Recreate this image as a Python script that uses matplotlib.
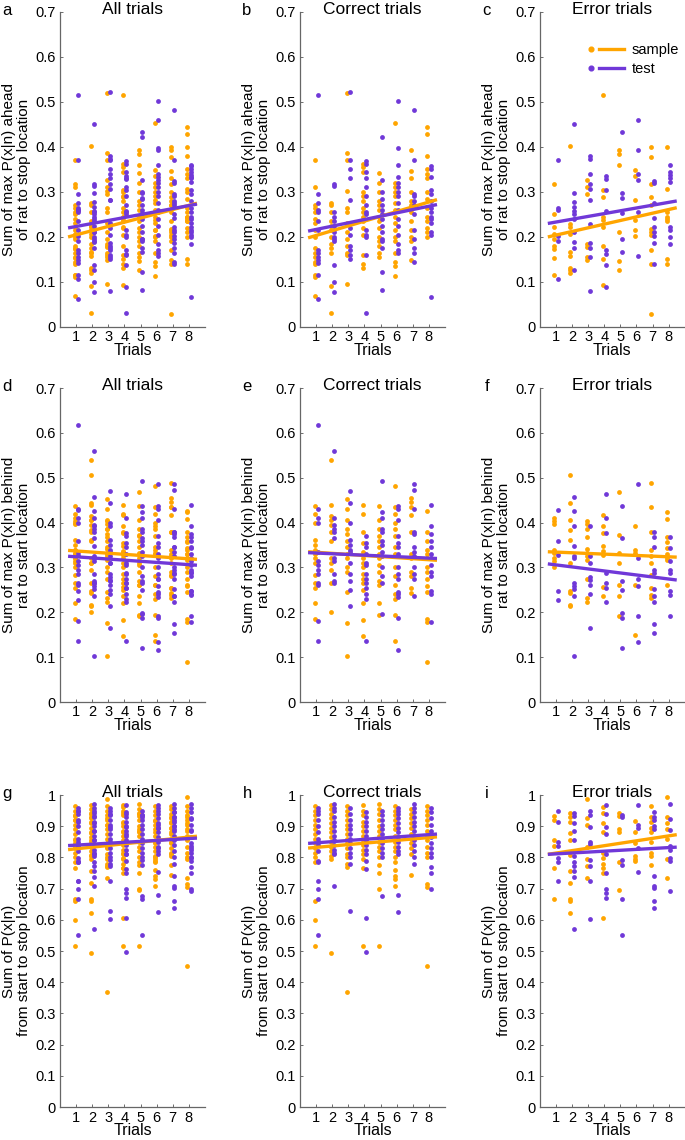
import numpy as np
import matplotlib
matplotlib.use("Agg")
from matplotlib import pyplot as plt
from matplotlib.lines import Line2D
from matplotlib.legend_handler import HandlerBase

plt.rcParams['font.family'] = ['Liberation Sans', 'DejaVu Sans']

# Values, one list per trial (1..8)
# Row 1: sum of max P(x|n) ahead of rat to stop location
ahead_correct_sample = [
    [0.371, 0.31, 0.27, 0.265, 0.255, 0.24, 0.23, 0.215, 0.2, 0.175, 0.165, 0.155, 0.145, 0.14, 0.115, 0.11, 0.068],
    [0.275, 0.27, 0.255, 0.235, 0.225, 0.215, 0.2, 0.185, 0.175, 0.165, 0.09, 0.032],
    [0.52, 0.386, 0.37, 0.302, 0.265, 0.255, 0.23, 0.21, 0.195, 0.18, 0.165, 0.16, 0.095],
    [0.362, 0.355, 0.345, 0.3, 0.29, 0.28, 0.265, 0.255, 0.245, 0.235, 0.22, 0.205, 0.16, 0.14, 0.132],
    [0.342, 0.32, 0.3, 0.28, 0.27, 0.26, 0.245, 0.235, 0.22, 0.2, 0.19, 0.18, 0.165, 0.155],
    [0.454, 0.32, 0.31, 0.3, 0.29, 0.275, 0.26, 0.245, 0.23, 0.215, 0.2, 0.19, 0.165, 0.145, 0.135, 0.113],
    [0.394, 0.346, 0.33, 0.3, 0.28, 0.27, 0.255, 0.235, 0.215, 0.2, 0.19, 0.148],
    [0.444, 0.428, 0.38, 0.35, 0.34, 0.33, 0.3, 0.285, 0.265, 0.245, 0.235, 0.22, 0.21, 0.2],
]
ahead_correct_test = [
    [0.515, 0.295, 0.275, 0.26, 0.255, 0.235, 0.215, 0.17, 0.165, 0.155, 0.148, 0.142, 0.115, 0.062],
    [0.318, 0.314, 0.255, 0.245, 0.235, 0.225, 0.21, 0.2, 0.195, 0.19, 0.137, 0.1, 0.078],
    [0.523, 0.37, 0.35, 0.332, 0.283, 0.23, 0.22, 0.205, 0.18, 0.17, 0.16, 0.15],
    [0.368, 0.362, 0.345, 0.33, 0.31, 0.29, 0.27, 0.255, 0.25, 0.215, 0.205, 0.2, 0.16, 0.03],
    [0.422, 0.327, 0.3, 0.285, 0.27, 0.26, 0.25, 0.24, 0.225, 0.21, 0.195, 0.19, 0.175, 0.123, 0.083],
    [0.502, 0.398, 0.36, 0.333, 0.32, 0.31, 0.3, 0.29, 0.275, 0.26, 0.24, 0.225, 0.205, 0.185, 0.17, 0.165],
    [0.482, 0.37, 0.295, 0.29, 0.28, 0.27, 0.25, 0.215, 0.195, 0.175, 0.165, 0.145],
    [0.358, 0.352, 0.333, 0.305, 0.295, 0.28, 0.265, 0.255, 0.245, 0.24, 0.23, 0.21, 0.205, 0.066],
]
ahead_error_sample = [
    [0.318, 0.251, 0.222, 0.207, 0.196, 0.181, 0.173, 0.153, 0.116],
    [0.403, 0.229, 0.222, 0.207, 0.166, 0.158, 0.132, 0.126, 0.121],
    [0.327, 0.311, 0.296, 0.185, 0.177, 0.155, 0.149],
    [0.516, 0.305, 0.289, 0.244, 0.238, 0.222, 0.179, 0.151, 0.093],
    [0.393, 0.385, 0.361, 0.211, 0.147, 0.126],
    [0.348, 0.335, 0.283, 0.237, 0.216, 0.203],
    [0.40, 0.378, 0.318, 0.289, 0.27, 0.218, 0.21, 0.205, 0.17, 0.141, 0.028],
    [0.40, 0.307, 0.255, 0.245, 0.24, 0.235, 0.15, 0.139],
]
ahead_error_test = [
    [0.37, 0.265, 0.26, 0.203, 0.19, 0.106],
    [0.452, 0.298, 0.278, 0.266, 0.257, 0.251, 0.24, 0.211, 0.188, 0.176, 0.126],
    [0.38, 0.374, 0.341, 0.318, 0.307, 0.283, 0.229, 0.186, 0.176, 0.156, 0.079],
    [0.335, 0.328, 0.305, 0.257, 0.17, 0.162, 0.138, 0.089],
    [0.434, 0.298, 0.286, 0.253, 0.196, 0.166],
    [0.461, 0.393, 0.341, 0.327, 0.255, 0.157],
    [0.325, 0.32, 0.275, 0.242, 0.222, 0.21, 0.203, 0.187, 0.139],
    [0.361, 0.345, 0.338, 0.33, 0.322, 0.222, 0.215, 0.2, 0.184],
]

# Row 2: sum of max P(x|n) behind rat to start location
behind_correct_sample = [
    [0.437, 0.42, 0.4, 0.362, 0.35, 0.34, 0.33, 0.32, 0.31, 0.283, 0.265, 0.255, 0.22, 0.185],
    [0.54, 0.44, 0.415, 0.405, 0.395, 0.38, 0.36, 0.32, 0.31, 0.295, 0.265, 0.2],
    [0.453, 0.43, 0.405, 0.385, 0.375, 0.36, 0.345, 0.33, 0.32, 0.3, 0.29, 0.245, 0.177, 0.103],
    [0.44, 0.42, 0.38, 0.355, 0.335, 0.32, 0.31, 0.3, 0.285, 0.275, 0.265, 0.25, 0.22, 0.182, 0.148],
    [0.437, 0.405, 0.385, 0.37, 0.36, 0.345, 0.33, 0.32, 0.305, 0.29, 0.27, 0.26, 0.22, 0.195],
    [0.482, 0.435, 0.42, 0.4, 0.385, 0.37, 0.345, 0.33, 0.3, 0.28, 0.262, 0.24, 0.23, 0.195, 0.135],
    [0.455, 0.445, 0.435, 0.418, 0.38, 0.33, 0.32, 0.29, 0.28, 0.255, 0.242],
    [0.425, 0.38, 0.36, 0.34, 0.33, 0.32, 0.3, 0.29, 0.275, 0.258, 0.245, 0.185, 0.178, 0.09],
]
behind_correct_test = [
    [0.617, 0.43, 0.41, 0.4, 0.335, 0.315, 0.305, 0.295, 0.285, 0.265, 0.26, 0.18, 0.135],
    [0.56, 0.41, 0.395, 0.385, 0.38, 0.365, 0.32, 0.315, 0.285, 0.27, 0.265],
    [0.47, 0.443, 0.4, 0.362, 0.35, 0.34, 0.335, 0.31, 0.285, 0.27, 0.25, 0.215],
    [0.37, 0.355, 0.345, 0.33, 0.31, 0.305, 0.285, 0.275, 0.265, 0.255, 0.24, 0.23, 0.135],
    [0.493, 0.423, 0.41, 0.385, 0.38, 0.36, 0.35, 0.335, 0.325, 0.3, 0.28, 0.265, 0.197],
    [0.437, 0.43, 0.405, 0.37, 0.355, 0.345, 0.33, 0.3, 0.285, 0.275, 0.245, 0.24, 0.235, 0.188, 0.117],
    [0.487, 0.472, 0.43, 0.38, 0.375, 0.345, 0.335, 0.325, 0.3, 0.285, 0.275, 0.237],
    [0.44, 0.392, 0.375, 0.36, 0.345, 0.33, 0.32, 0.305, 0.29, 0.28, 0.248, 0.24, 0.178],
]
behind_error_sample = [
    [0.41, 0.403, 0.397, 0.34, 0.332, 0.321, 0.314, 0.302],
    [0.507, 0.443, 0.406, 0.383, 0.362, 0.31, 0.247, 0.243, 0.217, 0.213],
    [0.403, 0.397, 0.386, 0.369, 0.341, 0.332, 0.325, 0.317, 0.275, 0.232, 0.224],
    [0.418, 0.393, 0.377, 0.347, 0.336, 0.328, 0.256, 0.236],
    [0.468, 0.373, 0.332, 0.311, 0.262, 0.236, 0.191],
    [0.392, 0.338, 0.332, 0.262, 0.15],
    [0.488, 0.434, 0.378, 0.34, 0.325, 0.311, 0.284, 0.254, 0.239, 0.232],
    [0.423, 0.409, 0.369, 0.357, 0.343, 0.331, 0.321, 0.316, 0.26],
]
behind_error_test = [
    [0.427, 0.358, 0.328, 0.247, 0.228],
    [0.457, 0.426, 0.393, 0.347, 0.326, 0.321, 0.265, 0.258, 0.252, 0.236, 0.103],
    [0.393, 0.326, 0.311, 0.279, 0.273, 0.261, 0.241, 0.165],
    [0.464, 0.41, 0.377, 0.288, 0.265, 0.254, 0.224],
    [0.438, 0.366, 0.269, 0.25, 0.198, 0.187, 0.12],
    [0.487, 0.321, 0.274, 0.258, 0.192, 0.133],
    [0.38, 0.369, 0.345, 0.295, 0.288, 0.252, 0.237, 0.222, 0.174, 0.154],
    [0.369, 0.343, 0.315, 0.295, 0.288, 0.247, 0.239, 0.192],
]

# Row 3: sum of P(x|n) from start to stop location
span_correct_sample = [
    [0.965, 0.95, 0.935, 0.92, 0.905, 0.89, 0.875, 0.86, 0.845, 0.83, 0.815, 0.8, 0.785, 0.66, 0.6, 0.515],
    [0.968, 0.955, 0.94, 0.925, 0.91, 0.895, 0.88, 0.865, 0.85, 0.835, 0.82, 0.805, 0.795, 0.495],
    [0.965, 0.95, 0.935, 0.92, 0.905, 0.89, 0.875, 0.86, 0.845, 0.83, 0.81, 0.8, 0.78, 0.77, 0.368],
    [0.968, 0.95, 0.935, 0.915, 0.9, 0.885, 0.87, 0.855, 0.84, 0.825, 0.81, 0.795, 0.765, 0.515],
    [0.972, 0.955, 0.94, 0.92, 0.9, 0.885, 0.87, 0.85, 0.835, 0.82, 0.8, 0.775, 0.75, 0.7, 0.517],
    [0.965, 0.95, 0.935, 0.92, 0.905, 0.89, 0.87, 0.85, 0.835, 0.82, 0.8, 0.785, 0.76, 0.74, 0.73, 0.708],
    [0.955, 0.94, 0.925, 0.91, 0.895, 0.875, 0.86, 0.845, 0.83, 0.81, 0.745],
    [0.965, 0.95, 0.935, 0.92, 0.905, 0.885, 0.87, 0.855, 0.835, 0.815, 0.8, 0.715, 0.705, 0.452],
]
span_correct_test = [
    [0.96, 0.95, 0.94, 0.92, 0.9, 0.88, 0.86, 0.84, 0.82, 0.79, 0.785, 0.725, 0.7, 0.667, 0.55],
    [0.97, 0.96, 0.95, 0.93, 0.915, 0.9, 0.885, 0.87, 0.855, 0.84, 0.825, 0.815, 0.81, 0.71],
    [0.96, 0.94, 0.92, 0.905, 0.89, 0.875, 0.86, 0.845, 0.83, 0.815, 0.8, 0.78, 0.628],
    [0.945, 0.93, 0.915, 0.9, 0.885, 0.87, 0.855, 0.84, 0.825, 0.81, 0.79, 0.762, 0.605, 0.498],
    [0.95, 0.935, 0.92, 0.905, 0.89, 0.875, 0.86, 0.845, 0.83, 0.815, 0.8, 0.678],
    [0.96, 0.95, 0.94, 0.925, 0.91, 0.895, 0.88, 0.865, 0.85, 0.835, 0.82, 0.81, 0.68, 0.625],
    [0.972, 0.96, 0.945, 0.93, 0.915, 0.9, 0.885, 0.87, 0.855, 0.84, 0.82, 0.8, 0.78],
    [0.96, 0.945, 0.925, 0.905, 0.885, 0.865, 0.845, 0.83, 0.815, 0.8, 0.77, 0.75, 0.7],
]
span_error_sample = [
    [0.933, 0.92, 0.855, 0.838, 0.766, 0.668],
    [0.942, 0.931, 0.915, 0.878, 0.857, 0.809, 0.756, 0.719, 0.668, 0.66, 0.623],
    [0.986, 0.928, 0.904, 0.835, 0.795, 0.774, 0.735],
    [0.961, 0.944, 0.91, 0.88, 0.814, 0.798, 0.78, 0.766, 0.75, 0.607],
    [0.944, 0.933, 0.89, 0.88, 0.785, 0.695],
    [0.917, 0.88, 0.846, 0.806, 0.795, 0.788],
    [0.965, 0.929, 0.912, 0.894, 0.88, 0.851, 0.814, 0.806, 0.777],
    [0.993, 0.929, 0.91, 0.89, 0.859, 0.795, 0.735],
]
span_error_test = [
    [0.95, 0.914, 0.848, 0.838, 0.798, 0.785, 0.724],
    [0.944, 0.933, 0.91, 0.886, 0.855, 0.804, 0.785, 0.774, 0.756, 0.738, 0.57],
    [0.95, 0.936, 0.899, 0.851, 0.844, 0.791, 0.772, 0.724, 0.603],
    [0.968, 0.94, 0.897, 0.875, 0.812, 0.75, 0.7, 0.687, 0.671],
    [0.936, 0.931, 0.793, 0.777, 0.668, 0.552],
    [0.968, 0.904, 0.894, 0.83, 0.753],
    [0.947, 0.929, 0.92, 0.901, 0.89, 0.74, 0.708, 0.703, 0.66, 0.639],
    [0.97, 0.922, 0.889, 0.838, 0.825, 0.798, 0.788, 0.692],
]

# Regression lines, values at the two ends (panels a..i)
fit_x = [0.5, 8.5]
fit_sample = [[0.200, 0.275], [0.198, 0.283], [0.200, 0.265],
              [0.338, 0.318], [0.335, 0.316], [0.335, 0.323],
              [0.825, 0.868], [0.830, 0.866], [0.810, 0.873]]
fit_test = [[0.220, 0.273], [0.213, 0.272], [0.230, 0.280],
            [0.325, 0.305], [0.333, 0.320], [0.308, 0.272],
            [0.838, 0.862], [0.845, 0.875], [0.810, 0.833]]

trials = [1, 2, 3, 4, 5, 6, 7, 8]
titles = ['All trials', 'Correct trials', 'Error trials']
letters = ['a', 'b', 'c', 'd', 'e', 'f', 'g', 'h', 'i']
ylabels = ['Sum of max P(x|n) ahead\nof rat to stop location',
           'Sum of max P(x|n) behind\nrat to start location',
           'Sum of P(x|n)\nfrom start to stop location']
ymax = [0.7, 0.7, 1.0]

orange = '#FFA500'
purple = '#7038D8'

rows = [
    (ahead_correct_sample, ahead_correct_test, ahead_error_sample, ahead_error_test),
    (behind_correct_sample, behind_correct_test, behind_error_sample, behind_error_test),
    (span_correct_sample, span_correct_test, span_error_sample, span_error_test),
]


class DotLineHandler(HandlerBase):
    # dot then a short line, like the MATLAB legend
    def create_artists(self, legend, orig_handle, xdescent, ydescent,
                       width, height, fontsize, trans):
        y = height / 2 - ydescent
        dot = Line2D([0.08 * width - xdescent], [y], marker='o', ms=3.4,
                     ls='none', color=orig_handle.get_color())
        line = Line2D([0.32 * width - xdescent, width - xdescent], [y, y],
                      lw=2.4, color=orig_handle.get_color())
        dot.set_transform(trans)
        line.set_transform(trans)
        return [dot, line]


fig = plt.figure(figsize=(6.85, 11.4), dpi=100)

lefts = [0.0876, 0.438, 0.788]
bottoms = [0.7132, 0.3842, 0.0289]
width = 0.2117
heights = [0.2763, 0.2754, 0.2737]

for r, (cs, ct, es, et) in enumerate(rows):
    all_s = [cs[k] + es[k] for k in range(8)]
    all_t = [ct[k] + et[k] for k in range(8)]
    for c, (smp, tst) in enumerate([(all_s, all_t), (cs, ct), (es, et)]):
        i = r * 3 + c
        ax = fig.add_axes([lefts[c], bottoms[r], width, heights[r]])
        xs = np.concatenate([[t - 0.1] * len(v) for t, v in zip(trials, smp)])
        ys = np.concatenate(smp)
        ax.scatter(xs, ys, s=12, color=orange, linewidths=0, zorder=2)
        xt = np.concatenate([[t + 0.1] * len(v) for t, v in zip(trials, tst)])
        yt = np.concatenate(tst)
        ax.scatter(xt, yt, s=12, color=purple, linewidths=0, zorder=2)
        ax.plot(fit_x, fit_sample[i], color=orange, lw=2.4, zorder=3,
                solid_capstyle='butt')
        ax.plot(fit_x, fit_test[i], color=purple, lw=2.4, zorder=4,
                solid_capstyle='butt')

        ax.set_xlim(0, 9)
        ax.set_ylim(0, ymax[r])
        ax.set_xticks(trials)
        yt_vals = np.round(np.arange(0, ymax[r] + 0.001, 0.1), 1)
        ax.set_yticks(yt_vals)
        ax.set_yticklabels([f'{v:g}' for v in yt_vals])
        ax.tick_params(direction='in', length=2.5, width=0.6, labelsize=10.5,
                       color='#555555')
        ax.tick_params(axis='x', pad=2.5)
        ax.tick_params(axis='y', pad=3)
        for side in ['top', 'right']:
            ax.spines[side].set_visible(False)
        for side in ['left', 'bottom']:
            ax.spines[side].set_color('#666666')
            ax.spines[side].set_linewidth(0.9)
        ax.set_xlabel('Trials', fontsize=11.5, labelpad=-1)
        ax.set_ylabel(ylabels[r], fontsize=11, labelpad=3, linespacing=1.1)
        # title baseline sits about 2 px below the top of the axes
        ax.text(0.5, 1 - 2 / (heights[r] * 1140), titles[c], fontsize=12.5,
                ha='center', va='baseline', transform=ax.transAxes)
        fig.text(lefts[c] - 53 / 685, bottoms[r] + heights[r] - 3 / 1140,
                 letters[i], fontsize=12, ha='center', va='baseline')

        if i == 2:
            h_s = Line2D([], [], color=orange)
            h_t = Line2D([], [], color=purple)
            ax.legend([h_s, h_t], ['sample', 'test'], loc='upper left',
                      bbox_to_anchor=(0.33, 0.9), frameon=False,
                      fontsize=10.5, handlelength=2.5, handletextpad=0.5,
                      borderpad=0, borderaxespad=0, labelspacing=0.3,
                      handler_map={Line2D: DotLineHandler()})

fig.savefig('out.png', dpi=100)
